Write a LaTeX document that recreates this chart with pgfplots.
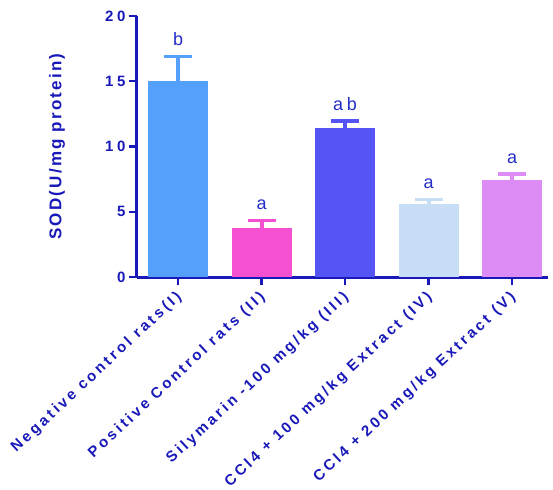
\documentclass[border=0pt]{standalone}
\usepackage{fontspec}
\setmainfont{Liberation Sans}
\newfontfamily\spaced[LetterSpace=20]{Liberation Sans}
\newfontfamily\spacedtick[LetterSpace=24]{Liberation Sans}
\newfontfamily\spacedlab[LetterSpace=13]{Liberation Sans}
\usepackage{pgfplots}
\usepackage{pgfplotstable}
\pgfplotsset{compat=1.18}

\definecolor{axblue}{RGB}{25,25,185}
\definecolor{sigblue}{RGB}{35,45,200}
\definecolor{cI}{RGB}{85,160,250}
\definecolor{cII}{RGB}{245,80,210}
\definecolor{cIII}{RGB}{85,85,245}
\definecolor{cIV}{RGB}{200,222,247}
\definecolor{cV}{RGB}{222,140,245}

% group, mean SOD, SD, significance letter
\pgfplotstableread{
x mean sd sig
1 15.00 1.90 b
2 3.78 0.56 a
3 11.43 0.51 ab
4 5.56 0.39 a
5 7.40 0.48 a
}\sodtable

\pgfplotsset{
  sodbar/.style={
    ybar, bar width=60pt, bar shift=0pt, fill=#1, draw=none,
    error bars/.cd,
      y dir=plus, y explicit,
      error bar style={line width=4pt, color=#1},
      error mark options={rotate=90, mark size=14pt, line width=3.5pt, color=#1},
  },
}

\begin{document}
\begin{tikzpicture}
\begin{axis}[
  at={(0,0)}, anchor=south west,
  scale only axis, width=411pt, height=261pt,
  xmin=0.509, xmax=5.43, ymin=0, ymax=20,
  axis lines=left,
  axis line style={-, line width=3pt, color=axblue},
  xtick={1,2,3,4,5}, ytick={0,5,10,15,20},
  xticklabels={Negative control rats(I), Positive Control rats (II),
    Silymarin -100 mg/kg (III), CCl4 + 100 mg/kg Extract (IV),
    CCl4 + 200 mg/kg Extract (V)},
  tick align=outside, major tick length=8pt,
  tick style={line width=2.5pt, color=axblue},
  /pgf/number format/assume math mode=true,
  yticklabel style={font=\spacedtick\bfseries\fontsize{15}{17}\selectfont, color=axblue},
  xticklabel style={font=\spaced\bfseries\fontsize{15}{17}\selectfont, color=axblue,
    yshift=-8pt, xshift=4pt, rotate=43, anchor=east},
  ylabel={SOD(U/mg protein)},
  ylabel style={at={(axis description cs:-0.1946,0.5)}, anchor=center,
    font=\spacedlab\bfseries\fontsize{17}{19}\selectfont, color=axblue},
  clip=false,
]
\addplot[sodbar=cI]   coordinates {(1,15.00) +- (0,1.90)};
\addplot[sodbar=cII]  coordinates {(2,3.78)  +- (0,0.56)};
\addplot[sodbar=cIII] coordinates {(3,11.43) +- (0,0.51)};
\addplot[sodbar=cIV]  coordinates {(4,5.56)  +- (0,0.39)};
\addplot[sodbar=cV]   coordinates {(5,7.40)  +- (0,0.48)};
% significance letters above the error bars
\addplot[draw=none, mark=none, nodes near coords, point meta=explicit symbolic,
  nodes near coords style={anchor=base, yshift=11pt, color=sigblue,
    font=\spaced\fontsize{18}{20}\selectfont}]
  table[x=x, y expr=\thisrow{mean}+\thisrow{sd}, meta=sig] {\sodtable};
\end{axis}
\pgfresetboundingbox
\path (-137pt,-212pt) rectangle (416pt,277pt);
\end{tikzpicture}
\end{document}
